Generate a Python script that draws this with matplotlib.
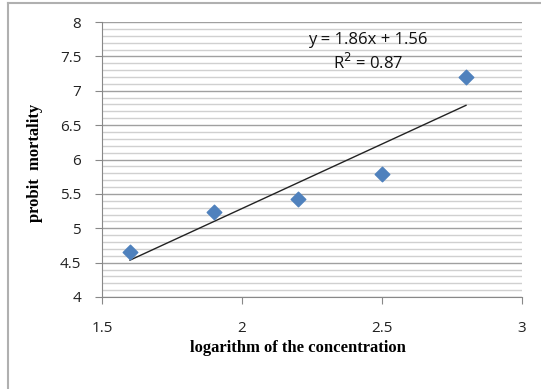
import numpy as np
import matplotlib.pyplot as plt
from matplotlib.lines import Line2D
from matplotlib.ticker import MultipleLocator

log_conc = [1.6, 1.9, 2.2, 2.5, 2.8]
probit = [4.66, 5.24, 5.42, 5.79, 7.20]
x_ticks = [1.5, 2, 2.5, 3]
x_labels = ['1.5', '2', '2.5', '3']
y_ticks = [4, 4.5, 5, 5.5, 6, 6.5, 7, 7.5, 8]
y_labels = ['4', '4.5', '5', '5.5', '6', '6.5', '7', '7.5', '8']
eq_text = "y = 1.86x + 1.56"
r2_text = "R$^2$ = 0.87"

fig = plt.figure(figsize=(5.41, 3.89), dpi=100)
ax = fig.add_axes([102/541, 1-297/389, 420/541, 275/389])

ax.set_xlim(1.5, 3)
ax.set_ylim(4, 8)
ax.set_xticks(x_ticks)
ax.set_xticklabels(x_labels)
ax.set_yticks(y_ticks)
ax.set_yticklabels(y_labels)
ax.yaxis.set_minor_locator(MultipleLocator(0.1))
ax.grid(axis='y', which='major', color='#a0a0a0', lw=1.0)
ax.grid(axis='y', which='minor', color='#d0d0d0', lw=1.0)
ax.set_axisbelow(True)

for s in ['top', 'right']:
    ax.spines[s].set_visible(False)
for s in ['left', 'bottom']:
    ax.spines[s].set_color('#888888')
ax.tick_params(which='major', length=5, color='#888888', labelsize=11,
               labelcolor='#222222')
ax.tick_params(which='minor', length=0)
ax.tick_params(axis='x', pad=12)
ax.tick_params(axis='y', pad=10)
for lbl in ax.get_xticklabels() + ax.get_yticklabels():
    lbl.set_family('Open Sans')

ax.scatter(log_conc, probit, marker='D', s=55, color='#4f81bd', zorder=3)
slope, icept = np.polyfit(log_conc, probit, 1)
xs = np.array([log_conc[0], log_conc[-1]])
ax.plot(xs, slope * xs + icept, color='#222222', lw=1.0, zorder=2)

ax.text(2.45, 7.74, eq_text, ha='center', va='center', fontsize=12,
        family='Open Sans', color='#111111')
ax.text(2.45, 7.41, r2_text, ha='center', va='center', fontsize=12,
        family='Open Sans', color='#111111')

fig.text(298/541, 1-348/389, 'logarithm of the concentration', ha='center',
         va='center', fontsize=12, fontweight='bold', family='Liberation Serif')
fig.text(35/541, 1-163/389, 'probit  mortality', ha='center', va='center',
         rotation=90, fontsize=12, fontweight='bold', family='Liberation Serif')

fig.add_artist(Line2D([8/541, 1], [1-3/389, 1-3/389], color='#b0b0b0', lw=1.5))
fig.add_artist(Line2D([8/541, 8/541], [0, 1-3/389], color='#b0b0b0', lw=1.5))

fig.savefig('out.png', dpi=100)
